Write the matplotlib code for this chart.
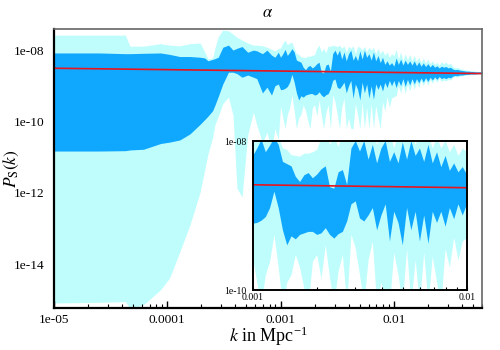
import matplotlib
matplotlib.use("Agg")
import matplotlib.pyplot as plt
from matplotlib.ticker import FixedLocator, FixedFormatter, LogLocator, NullFormatter
import numpy as np

# log10(k) grid and log10(P) band edges
log_k = [
    -5.00, -4.60, -4.37, -4.33, -4.21, -4.06, -3.98, -3.89, -3.80, -3.71,
    -3.67, -3.64, -3.60, -3.58, -3.55, -3.51, -3.46, -3.42, -3.385, -3.34,
    -3.29, -3.24, -3.21, -3.16, -3.12, -3.08, -3.05, -3.02,
    -3.00, -2.98, -2.96, -2.94, -2.92, -2.90, -2.88, -2.86, -2.84, -2.82,
    -2.80, -2.78, -2.76, -2.74, -2.72, -2.70, -2.68, -2.66, -2.64, -2.62,
    -2.60, -2.58, -2.56, -2.54, -2.52, -2.50, -2.48, -2.46, -2.44, -2.42,
    -2.40, -2.38, -2.36, -2.34, -2.32, -2.30, -2.28, -2.26, -2.24, -2.22,
    -2.20, -2.18, -2.16, -2.14, -2.12, -2.10, -2.08, -2.06, -2.04, -2.02,
    -2.00, -1.98, -1.96, -1.94, -1.92, -1.90, -1.88, -1.86, -1.84, -1.82,
    -1.80, -1.78, -1.76, -1.74, -1.72, -1.70, -1.68, -1.66, -1.64, -1.62,
    -1.60, -1.58, -1.56, -1.54, -1.52, -1.50, -1.48, -1.46, -1.44, -1.42,
    -1.40, -1.38, -1.36, -1.34, -1.32, -1.30, -1.28, -1.26, -1.24, -1.22,
]

# outer (95%) band, upper edge
light_hi = [
    -7.58, -7.58, -7.58, -7.89, -7.89, -7.82, -7.86, -7.88, -7.82, -7.80,
    -8.05, -8.25, -8.22, -7.95, -7.62, -7.44, -7.46, -7.55, -7.64, -7.72,
    -7.80, -7.86, -7.86, -7.88, -7.92, -7.98, -8.02, -7.96,
    -7.94, -7.80, -7.72, -7.85, -7.80, -7.78, -7.95, -8.10, -8.12, -8.19,
    -8.20, -8.21, -8.17, -8.17, -8.15, -8.12, -7.95, -7.86, -8.05, -7.95,
    -8.08, -7.88, -7.90, -7.86, -7.88, -7.90, -7.86, -7.95, -7.88, -8.05,
    -7.90, -7.95, -7.88, -8.10, -7.90, -7.92, -8.00, -7.90, -8.05, -7.92,
    -8.00, -7.92, -8.10, -7.95, -8.10, -8.00, -8.15, -8.05, -8.20, -8.10,
    -8.15, -7.98, -8.25, -8.05, -8.30, -8.10, -8.28, -8.12, -8.30, -8.15,
    -8.32, -8.20, -8.35, -8.22, -8.36, -8.25, -8.38, -8.30, -8.40, -8.34,
    -8.42, -8.33, -8.38, -8.34, -8.40, -8.37, -8.46, -8.50, -8.48, -8.52,
    -8.53, -8.55, -8.56, -8.57, -8.58, -8.58, -8.59, -8.60, -8.60, -8.60,
]

# inner (68%) band, upper edge
dark_hi = [
    -8.08, -8.08, -8.10, -8.10, -8.09, -8.08, -8.12, -8.18, -8.18, -8.20,
    -8.22, -8.30, -8.26, -8.24, -8.20, -7.92, -7.86, -8.00, -7.95, -7.90,
    -8.06, -8.00, -8.02, -8.10, -8.00, -8.14, -8.20, -8.06,
    -8.20, -8.10, -7.98, -8.15, -8.06, -7.96, -8.05, -8.28, -8.31, -8.34,
    -8.48, -8.55, -8.46, -8.43, -8.50, -8.45, -8.38, -8.34, -8.62, -8.64,
    -8.42, -8.39, -8.59, -8.10, -8.00, -8.14, -8.00, -8.25, -8.05, -8.30,
    -8.10, -8.00, -8.28, -8.15, -8.30, -8.02, -8.25, -8.00, -8.20, -8.10,
    -8.28, -8.05, -8.30, -8.15, -8.35, -8.20, -8.40, -8.30, -8.42, -8.35,
    -8.45, -8.22, -8.40, -8.25, -8.42, -8.28, -8.40, -8.30, -8.42, -8.30,
    -8.44, -8.33, -8.45, -8.36, -8.46, -8.38, -8.47, -8.40, -8.48, -8.44,
    -8.50, -8.45, -8.48, -8.46, -8.50, -8.48, -8.53, -8.55, -8.54, -8.56,
    -8.57, -8.58, -8.59, -8.59, -8.60, -8.60, -8.61, -8.61, -8.61, -8.61,
]

# inner (68%) band, lower edge
dark_lo = [
    -10.83, -10.83, -10.82, -10.80, -10.78, -10.62, -10.58, -10.52, -10.35, -10.08,
    -9.95, -9.85, -9.70, -9.55, -9.30, -8.95, -8.62, -8.62, -8.66, -8.76,
    -8.70, -8.76, -8.80, -9.20, -9.04, -9.26, -9.00, -8.95,
    -9.11, -9.10, -9.07, -9.02, -8.90, -8.68, -8.90, -9.20, -9.40, -9.28,
    -9.32, -9.26, -9.24, -9.22, -9.22, -9.26, -9.24, -9.17, -9.26, -9.31,
    -9.25, -9.22, -9.08, -8.85, -8.81, -9.04, -9.08, -9.00, -8.90, -9.20,
    -9.00, -8.85, -9.35, -8.95, -9.10, -9.40, -8.90, -9.20, -8.95, -9.35,
    -9.00, -9.38, -8.95, -9.10, -8.95, -9.15, -8.90, -9.05, -8.85, -9.00,
    -8.85, -9.05, -8.85, -9.00, -8.80, -9.02, -8.82, -8.98, -8.80, -8.95,
    -8.80, -8.92, -8.78, -8.90, -8.77, -8.88, -8.76, -8.84, -8.75, -8.82,
    -8.74, -8.80, -8.77, -8.80, -8.76, -8.78, -8.73, -8.71, -8.72, -8.70,
    -8.70, -8.69, -8.68, -8.68, -8.67, -8.67, -8.67, -8.66, -8.66, -8.66,
]

# outer (95%) band, lower edge
light_lo = [
    -15.09, -15.07, -15.05, -15.25, -15.14, -14.72, -14.39, -13.66, -12.90, -11.98,
    -11.36, -10.90, -10.45, -10.10, -9.85, -9.50, -9.32, -9.82, -11.87, -12.12,
    -10.38, -9.74, -10.10, -10.60, -10.30, -10.80, -10.20, -10.50,
    -9.57, -9.90, -10.20, -9.80, -9.62, -9.26, -9.70, -10.20, -9.90, -9.80,
    -9.53, -9.70, -9.98, -10.20, -9.62, -9.53, -9.85, -9.40, -9.84, -10.20,
    -9.75, -9.53, -10.20, -9.26, -9.44, -9.80, -10.20, -9.60, -9.35, -10.20,
    -9.90, -10.20, -10.20, -9.50, -9.80, -10.20, -9.45, -10.20, -9.60, -10.20,
    -9.50, -10.20, -9.55, -9.90, -10.20, -9.45, -9.70, -9.30, -9.60, -9.35,
    -9.30, -9.28, -9.00, -9.20, -8.95, -9.22, -8.95, -9.15, -8.90, -9.10,
    -8.88, -9.05, -8.85, -9.00, -8.84, -8.98, -8.82, -8.93, -8.80, -8.90,
    -8.79, -8.88, -8.84, -8.86, -8.82, -8.84, -8.77, -8.74, -8.76, -8.73,
    -8.72, -8.71, -8.70, -8.69, -8.69, -8.68, -8.68, -8.67, -8.67, -8.67,
]

# best-fit power law (straight in log-log), end points
fit_k = [1e-5, 0.06]
fit_p = [3.1e-9, 2.2e-9]

main_xticks = [1e-5, 1e-4, 1e-3, 1e-2]
main_xlabels = ["1e-05", "0.0001", "0.001", "0.01"]
main_yticks = [1e-8, 1e-10, 1e-12, 1e-14]
main_ylabels = ["1e-08", "1e-10", "1e-12", "1e-14"]

DARK = "#10A8FF"
LIGHT = "#BFFDFD"
RED = "#E8141E"

plt.rcParams["font.family"] = ["Liberation Serif", "DejaVu Serif"]
plt.rcParams["mathtext.fontset"] = "stix"

k = 10.0 ** np.array(log_k)
lh = 10.0 ** np.array(light_hi)
ll = 10.0 ** np.array(light_lo)
dh = 10.0 ** np.array(dark_hi)
dl = 10.0 ** np.array(dark_lo)


def draw_bands(ax):
    ax.fill_between(k, ll, lh, color=LIGHT, lw=0)
    ax.fill_between(k, dl, dh, color=DARK, lw=0)
    ax.plot(fit_k, fit_p, color=RED, lw=1.2)
    ax.set_xscale("log")
    ax.set_yscale("log")


fig = plt.figure(figsize=(5, 3.5), dpi=100)

# main panel
ax = fig.add_axes([0.108, 0.12, 0.856, 0.797])
draw_bands(ax)
ax.set_xlim(1e-5, 0.06)
ax.set_ylim(10 ** -15.23, 10 ** -7.41)
ax.xaxis.set_major_locator(FixedLocator(main_xticks))
ax.xaxis.set_major_formatter(FixedFormatter(main_xlabels))
ax.xaxis.set_minor_locator(LogLocator(base=10, subs=np.arange(2, 10), numticks=20))
ax.xaxis.set_minor_formatter(NullFormatter())
ax.yaxis.set_major_locator(FixedLocator(main_yticks))
ax.yaxis.set_major_formatter(FixedFormatter(main_ylabels))
ax.yaxis.set_minor_locator(FixedLocator([]))
ax.tick_params(axis="x", which="major", direction="in", length=5, width=1,
               labelsize=9.6, pad=4)
ax.tick_params(axis="x", which="minor", direction="in", length=3, width=0.8)
ax.tick_params(axis="y", length=0, labelsize=9.6, pad=7)
for s in ["left", "bottom"]:
    ax.spines[s].set_linewidth(1.6)
    ax.spines[s].set_color("black")
for s in ["top", "right"]:
    ax.spines[s].set_linewidth(1.2)
    ax.spines[s].set_color("#666666")
ax.set_title(r"$\alpha$", fontsize=12, pad=9)
ax.set_xlabel(r"$k$ in Mpc$^{\mathregular{-1}}$", fontsize=13)
ax.xaxis.set_label_coords(0.5, -0.06)
ax.set_ylabel(r"$P_{\mathrm{S}}(k)$", fontsize=12.5)
ax.yaxis.set_label_coords(-0.076, 0.5)

# inset zoom on 0.001 - 0.01
ins = fig.add_axes([0.506, 0.1714, 0.428, 0.4257])
ins.set_facecolor("white")
draw_bands(ins)
ins.set_xlim(1e-3, 1e-2)
ins.set_ylim(1e-10, 1e-8)
ins.xaxis.set_major_locator(FixedLocator([1e-3, 1e-2]))
ins.xaxis.set_major_formatter(FixedFormatter(["0.001", "0.01"]))
ins.xaxis.set_minor_locator(FixedLocator(np.arange(2, 10) * 1e-3))
ins.xaxis.set_minor_formatter(NullFormatter())
ins.yaxis.set_major_locator(FixedLocator([1e-10, 1e-8]))
ins.yaxis.set_major_formatter(FixedFormatter(["1e-10", "1e-08"]))
ins.yaxis.set_minor_locator(FixedLocator([]))
ins.tick_params(axis="x", which="both", direction="in", length=2.5, width=0.8,
                labelsize=7, pad=2)
ins.tick_params(axis="y", length=0, labelsize=7, pad=5)
for s in ins.spines.values():
    s.set_linewidth(1.4)
    s.set_color("black")

fig.savefig("out.png", dpi=100)
